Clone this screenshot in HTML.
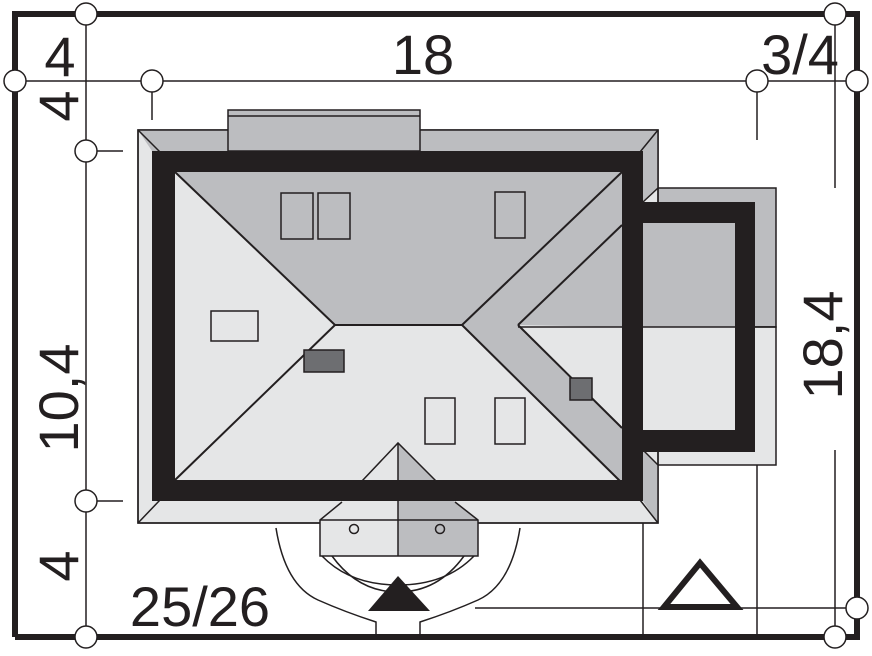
<!DOCTYPE html>
<html><head><meta charset="utf-8"><style>
html,body{margin:0;padding:0;background:#fff;}
svg{display:block;}
text{font-family:"Liberation Sans",sans-serif;fill:#231f20;}
</style></head><body>
<svg width="872" height="656" viewBox="0 0 872 656" xmlns="http://www.w3.org/2000/svg">
<g stroke="#231f20" fill="none">
<polyline points="15,637 15,14 857,14 857,637 15,637" stroke-width="6"/>
<g stroke-width="1.5">
<line x1="86" y1="14" x2="86" y2="637"/>
<line x1="15" y1="81" x2="857" y2="81"/>
<line x1="152" y1="81" x2="152" y2="120"/>
<line x1="757" y1="81" x2="757" y2="140"/>
<line x1="835" y1="14" x2="835" y2="188"/>
<line x1="835" y1="450" x2="835" y2="637"/>
<line x1="86" y1="151" x2="123" y2="151"/>
<line x1="86" y1="501" x2="123" y2="501"/>
<line x1="475" y1="608" x2="857" y2="608"/>
<line x1="643" y1="523" x2="643" y2="637"/>
<line x1="757" y1="465" x2="757" y2="637"/>
</g>
</g>
<!-- wing roof -->
<rect x="645" y="188" width="131" height="139" fill="#bcbdc0" stroke="#231f20" stroke-width="1.5"/>
<rect x="645" y="327" width="131" height="138" fill="#e5e6e7" stroke="#231f20" stroke-width="1.5"/>
<!-- main roof overhang -->
<rect x="138" y="130" width="520" height="393" fill="#e5e6e7" stroke="#231f20" stroke-width="1.5"/>
<polygon points="138,130 658,130 658,188 643,202 643,151 152,151" fill="#bcbdc0"/>
<polygon points="643,450 658,465 658,523 643,501" fill="#bcbdc0"/>
<g stroke="#231f20" stroke-width="1.5">
<line x1="138" y1="130" x2="160" y2="152"/>
<line x1="658" y1="130" x2="640" y2="152"/>
<line x1="138" y1="523" x2="160" y2="500"/>
<line x1="658" y1="523" x2="640" y2="500"/>
<line x1="643" y1="202" x2="658" y2="188"/>
<line x1="643" y1="450" x2="658" y2="465"/>
<rect x="138" y="130" width="520" height="393" fill="none"/>
</g>
<!-- chimney/top extension -->
<rect x="228" y="110" width="192" height="41" fill="#bcbdc0" stroke="#231f20" stroke-width="1.5"/>
<line x1="228" y1="116" x2="420" y2="116" stroke="#231f20" stroke-width="1.5"/>
<!-- main roof inner -->
<rect x="175" y="172" width="447" height="308" fill="#e5e6e7"/>
<polygon points="175,172 622,172 462,325 335,325" fill="#bcbdc0"/>
<polygon points="518,325 622,225 622,327" fill="#bcbdc0"/>
<polygon points="462,325 622,172 622,225 518,325 622,428 622,483" fill="#bcbdc0"/>
<g stroke="#231f20" stroke-width="2">
<line x1="175" y1="172" x2="335" y2="325"/>
<line x1="175" y1="480" x2="335" y2="325"/>
<line x1="335" y1="325" x2="462" y2="325"/>
<line x1="462" y1="325" x2="622" y2="172"/>
<line x1="462" y1="325" x2="622" y2="483"/>
<line x1="518" y1="325" x2="622" y2="225"/>
<line x1="518" y1="325" x2="622" y2="428"/>
</g>
<rect x="643" y="223" width="92" height="104" fill="#bcbdc0"/>
<rect x="643" y="327" width="92" height="103" fill="#e5e6e7"/>
<line x1="643" y1="327" x2="776" y2="327" stroke="#231f20" stroke-width="1.5"/>
<line x1="518" y1="327" x2="622" y2="327" stroke="#231f20" stroke-width="1.5"/>
<!-- porch -->
<polygon points="398,443 362,481 342,502 320,520 320,556 398,556" fill="#e5e6e7"/>
<polygon points="398,443 436,481 455,502 478,520 478,556 398,556" fill="#bcbdc0"/>
<polyline points="362,481 398,443 436,481" fill="none" stroke="#231f20" stroke-width="1.5"/>
<polyline points="342,502 320,520 320,556 478,556 478,520 455,502" fill="none" stroke="#231f20" stroke-width="1.5"/>
<line x1="398" y1="443" x2="398" y2="556" stroke="#231f20" stroke-width="1.5"/>
<line x1="320" y1="520" x2="478" y2="520" stroke="#231f20" stroke-width="1.5"/>
<circle cx="354" cy="529" r="4.5" fill="none" stroke="#231f20" stroke-width="1.5"/>
<circle cx="440" cy="529" r="4.5" fill="none" stroke="#231f20" stroke-width="1.5"/>
<!-- walls -->
<path d="M152,151 H643 V501 H152 Z M175,172 V480 H622 V172 Z" fill="#231f20" fill-rule="evenodd"/>
<path d="M640,202 H755 V452 H640 V430 H735 V223 H640 Z" fill="#231f20"/>
<!-- windows -->
<g fill="none" stroke="#231f20" stroke-width="1.5">
<rect x="281" y="193" width="32" height="46"/>
<rect x="318" y="193" width="32" height="46"/>
<rect x="495" y="192" width="30" height="46"/>
<rect x="211" y="311" width="47" height="30"/>
<rect x="425" y="398" width="30" height="46"/>
<rect x="495" y="398" width="30" height="46"/>
</g>
<rect x="304" y="350" width="40" height="22" fill="#6d6e71" stroke="#231f20" stroke-width="1.5"/>
<rect x="570" y="378" width="22" height="22" fill="#6d6e71" stroke="#231f20" stroke-width="1.5"/>
<!-- arcs -->
<g fill="none" stroke="#231f20" stroke-width="1.5">
<path d="M276,528 Q285,585 318,600 Q345,612 376,622 V637"/>
<path d="M520,528 Q511,585 478,600 Q451,612 420,622 V637"/>
<path d="M322,556 Q350,585 398,585 Q446,585 474,556"/>
<path d="M332,556 Q358,592 398,592 Q438,592 464,556"/>
</g>
<polygon points="398,576 368,611 430,611" fill="#231f20"/>
<polygon points="700,563 664,607 737,607" fill="none" stroke="#231f20" stroke-width="6"/>
<g fill="#fff" stroke="#231f20" stroke-width="1.5">
<circle cx="86" cy="14" r="11"/>
<circle cx="835" cy="14" r="11"/>
<circle cx="15" cy="81" r="11"/>
<circle cx="152" cy="81" r="11"/>
<circle cx="757" cy="81" r="11"/>
<circle cx="857" cy="81" r="11"/>
<circle cx="86" cy="151" r="11"/>
<circle cx="86" cy="501" r="11"/>
<circle cx="86" cy="637" r="11"/>
<circle cx="835" cy="637" r="11"/>
<circle cx="857" cy="608" r="11"/>
</g>
<g font-size="56">
<text x="60" y="76" text-anchor="middle">4</text>
<text x="423" y="74" text-anchor="middle">18</text>
<text x="800" y="74" text-anchor="middle">3/4</text>
<text x="200" y="626" text-anchor="middle">25/26</text>
<text transform="translate(78,106) rotate(-90)" text-anchor="middle">4</text>
<text transform="translate(78,398) rotate(-90)" text-anchor="middle">10,4</text>
<text transform="translate(78,566) rotate(-90)" text-anchor="middle">4</text>
<text transform="translate(842,345) rotate(-90)" text-anchor="middle">18,4</text>
</g>
</svg>
</body></html>
